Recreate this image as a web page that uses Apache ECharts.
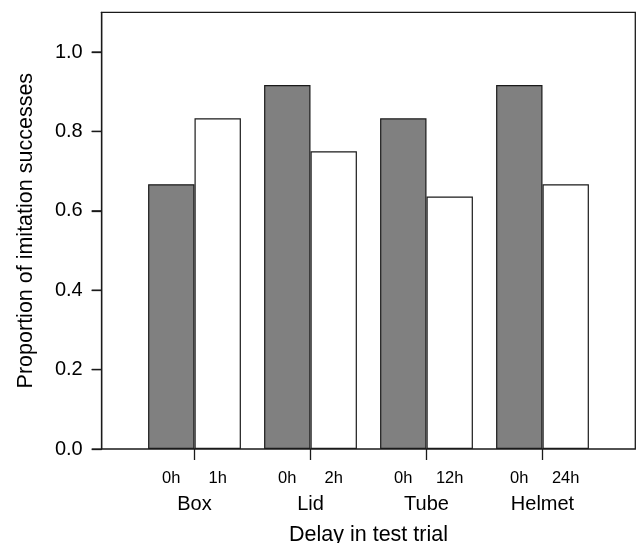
<!DOCTYPE html>
<html>
<head>
<meta charset="utf-8">
<script src="https://cdn.jsdelivr.net/npm/echarts@6/dist/echarts.min.js"></script>
<style>
html,body{margin:0;padding:0;background:#fff;}
#chart{width:637px;height:543px;}
</style>
</head>
<body>
<div id="chart"></div>
<script>
// ---- data ----
const objects = ['Box', 'Lid', 'Tube', 'Helmet'];
const immediateLabels = ['0h', '0h', '0h', '0h'];
const delayLabels = ['1h', '2h', '12h', '24h'];
const immediateValues = [0.667, 0.917, 0.833, 0.917];
const delayedValues = [0.833, 0.75, 0.636, 0.667];
const yTickValues = [0, 0.2, 0.4, 0.6, 0.8, 1.0];
const yTickLabels = ['0.0', '0.2', '0.4', '0.6', '0.8', '1.0'];
const yMax = 1.1;

// ---- layout ----
const FONT = '"Liberation Sans", Arial, sans-serif';
const plotLeft = 101.7, plotTop = 12.3, plotW = 533.6, plotH = 436.7;
const unit = plotW / 11.5;
const innerLeft = plotLeft + unit * 0.75;
const innerW = unit * 10;
const tickLen = 10;
const lineColor = '#1a1a1a';

const chart = echarts.init(document.getElementById('chart'), null, {renderer: 'canvas'});

const option = {
  animation: false,
  backgroundColor: '#fff',
  grid: [
    {left: plotLeft, top: plotTop, width: plotW, height: plotH, show: true,
     borderColor: lineColor, borderWidth: 1.3, backgroundColor: 'transparent',
     containLabel: false, outerBoundsMode: 'none'},
    {left: innerLeft, top: plotTop, width: innerW, height: plotH, show: false,
     containLabel: false, outerBoundsMode: 'none'}
  ],
  xAxis: [
    {gridIndex: 0, type: 'value', min: 0, max: 1, show: false},
    {gridIndex: 1, type: 'category', data: objects,
     boundaryGap: true,
     axisLine: {show: false},
     axisTick: {show: true, alignWithLabel: true, length: 11, lineStyle: {color: lineColor, width: 1.3}},
     axisLabel: {
       margin: 19, interval: 0,
       formatter: function (v, i) {
         return '{s|' + immediateLabels[i] + '}{s|' + delayLabels[i] + '}\n{g|' + v + '}';
       },
       rich: {
         s: {width: unit, align: 'center', fontSize: 16.5, lineHeight: 20, fontFamily: FONT, color: '#000'},
         g: {align: 'center', fontSize: 20, lineHeight: 32, fontFamily: FONT, color: '#000'}
       }
     },
     name: 'Delay in test trial', nameLocation: 'middle', nameGap: 75,
     nameTextStyle: {fontSize: 21.5, fontFamily: FONT, color: '#000'}
    }
  ],
  yAxis: [
    {gridIndex: 0, type: 'value', min: 0, max: yMax,
     splitLine: {show: false},
     axisLine: {show: true, lineStyle: {color: lineColor, width: 1.3}},
     axisTick: {show: true, inside: false, length: tickLen, customValues: yTickValues,
       lineStyle: {color: lineColor, width: 1.3}},
     axisLabel: {show: true, margin: 9, customValues: yTickValues,
       formatter: function (v) {
         const k = yTickValues.indexOf(v);
         return '{t|' + (k >= 0 ? yTickLabels[k] : '') + '}{p|}';
       },
       rich: {
         t: {fontSize: 20, fontFamily: FONT, color: '#000'},
         p: {width: 10, fontSize: 20}
       }
     },
     name: 'Proportion of imitation successes', nameLocation: 'middle', nameGap: 65,
     nameTextStyle: {fontSize: 21.5, fontFamily: FONT, color: '#000'}
    },
    {gridIndex: 1, type: 'value', min: 0, max: yMax, show: false, splitLine: {show: false}}
  ],
  series: [
    {type: 'bar', xAxisIndex: 1, yAxisIndex: 1, data: immediateValues,
     barWidth: '40%', barGap: '0%',
     itemStyle: {color: '#808080', borderColor: lineColor, borderWidth: 1.2}},
    {type: 'bar', xAxisIndex: 1, yAxisIndex: 1, data: delayedValues,
     barWidth: '40%', barGap: '0%',
     itemStyle: {color: '#ffffff', borderColor: lineColor, borderWidth: 1.2}},
    {type: 'custom', xAxisIndex: 0, yAxisIndex: 0, clip: false, silent: true, z: 10,
     data: yTickValues.map(function (v) { return [0, v]; }),
     encode: {x: 0, y: 1},
     renderItem: function (params, api) {
       const p = api.coord([api.value(0), api.value(1)]);
       return {
         type: 'line',
         shape: {x1: p[0] - tickLen, y1: p[1], x2: p[0], y2: p[1]},
         style: {stroke: lineColor, lineWidth: 1.3}
       };
     }}
  ]
};
chart.setOption(option);
</script>
</body>
</html>
